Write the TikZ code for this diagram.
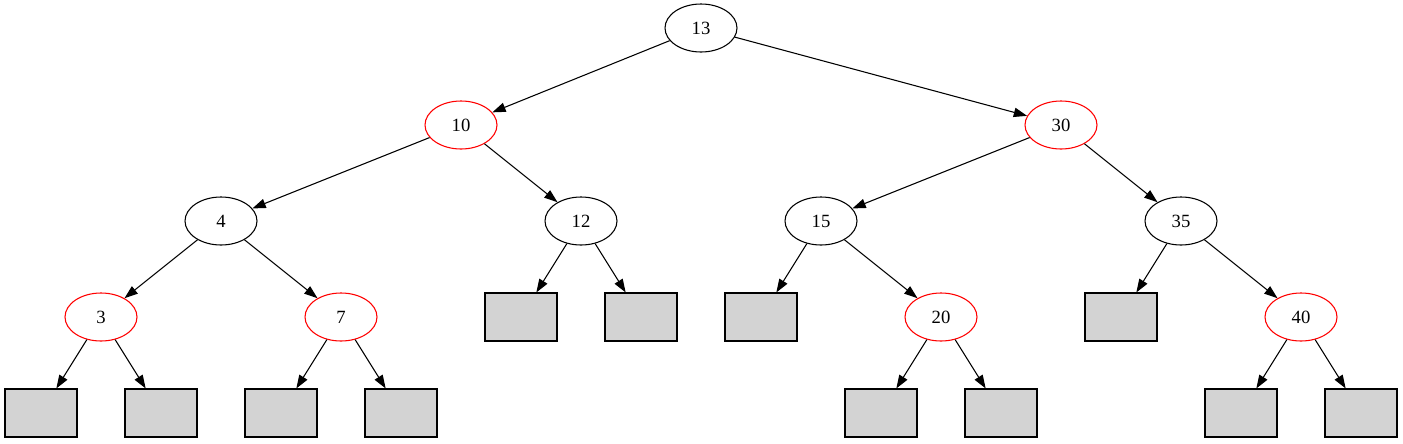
\documentclass[tikz,border=0pt]{standalone}
\usepackage{fontspec}
\setmainfont{Liberation Serif}
\usetikzlibrary{arrows.meta}
\usetikzlibrary{shapes.geometric}
\definecolor{nilgray}{RGB}{211,211,211}

\begin{document}
\begin{tikzpicture}[x=0.75pt, y=-0.75pt, >={Triangle[length=10pt, width=7pt]}, line width=0.8pt,
  blacknode/.style={ellipse, draw, minimum width=54pt, minimum height=36pt, inner sep=0pt,
    font=\fontsize{14}{16}\selectfont},
  rednode/.style={blacknode, draw=red},
  nilnode/.style={rectangle, draw, fill=nilgray, minimum width=54pt, minimum height=36pt}]

\useasboundingbox (0,0) rectangle (1403,443);

% inner nodes
\node[blacknode] (n13) at (701,28)  {13};
\node[rednode]   (n10) at (461,125) {10};
\node[rednode]   (n30) at (1061,125) {30};
\node[blacknode] (n4)  at (221,221) {4};
\node[blacknode] (n12) at (581,221) {12};
\node[blacknode] (n15) at (821,221) {15};
\node[blacknode] (n35) at (1181,221) {35};
\node[rednode]   (n3)  at (101,317) {3};
\node[rednode]   (n7)  at (341,317) {7};
\node[rednode]   (n20) at (941,317) {20};
\node[rednode]   (n40) at (1301,317) {40};

% leaves
\node[nilnode] (l12a) at (521,317) {};
\node[nilnode] (l12b) at (641,317) {};
\node[nilnode] (l15)  at (761,317) {};
\node[nilnode] (l35)  at (1121,317) {};
\node[nilnode] (l3a)  at (41,413) {};
\node[nilnode] (l3b)  at (161,413) {};
\node[nilnode] (l7a)  at (281,413) {};
\node[nilnode] (l7b)  at (401,413) {};
\node[nilnode] (l20a) at (881,413) {};
\node[nilnode] (l20b) at (1001,413) {};
\node[nilnode] (l40a) at (1241,413) {};
\node[nilnode] (l40b) at (1361,413) {};

% edges
\draw[->] (n13) -- (n10);
\draw[->] (n13) -- (n30);
\draw[->] (n10) -- (n4);
\draw[->] (n10) -- (n12);
\draw[->] (n30) -- (n15);
\draw[->] (n30) -- (n35);
\draw[->] (n4) -- (n3);
\draw[->] (n4) -- (n7);
\draw[->] (n12) -- (l12a);
\draw[->] (n12) -- (l12b);
\draw[->] (n15) -- (l15);
\draw[->] (n15) -- (n20);
\draw[->] (n35) -- (l35);
\draw[->] (n35) -- (n40);
\draw[->] (n3) -- (l3a);
\draw[->] (n3) -- (l3b);
\draw[->] (n7) -- (l7a);
\draw[->] (n7) -- (l7b);
\draw[->] (n20) -- (l20a);
\draw[->] (n20) -- (l20b);
\draw[->] (n40) -- (l40a);
\draw[->] (n40) -- (l40b);

\end{tikzpicture}
\end{document}
